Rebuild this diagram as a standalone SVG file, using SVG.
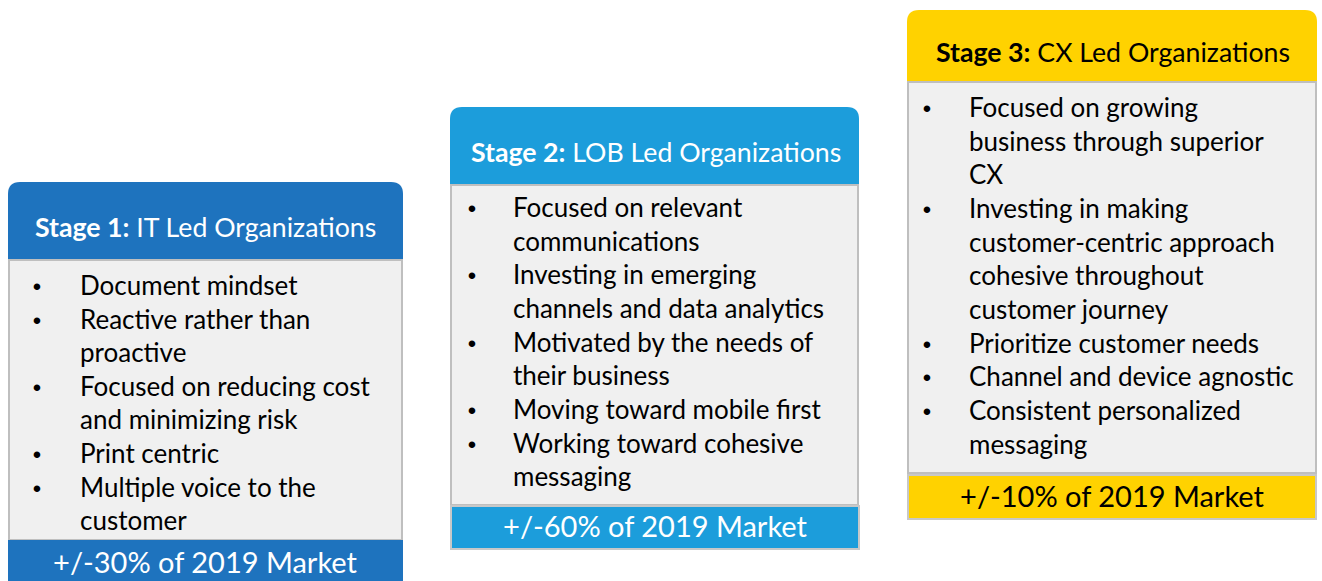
<svg xmlns="http://www.w3.org/2000/svg" width="1322" height="581" viewBox="0 0 1322 581">
<style>
.body{fill:#f0f0f0;stroke:#bfbfbf;stroke-width:2}
.t{font-family:Lato,"Liberation Sans",sans-serif;font-size:26px;fill:#000}
.b{font-family:"Liberation Sans",sans-serif;font-size:24px;fill:#000;text-anchor:middle}
.h{font-family:Lato,"Liberation Sans",sans-serif;font-size:26.7px}
.f{font-family:Lato,"Liberation Sans",sans-serif;font-size:29px;text-anchor:middle}
.w{fill:#fff}
.k{fill:#000}
</style>
<rect width="1322" height="581" fill="#fff"/>
<g id="stage1">
<path d="M8 260 V194 Q8 182 20 182 H391 Q403 182 403 194 V260 Z" fill="#1e73be"/>
<rect class="body" x="9" y="260" width="393" height="280"/>
<rect x="8" y="540" width="395" height="41" fill="#1e73be"/>
<text class="h w" x="35" y="237"><tspan font-weight="bold">Stage 1:</tspan> IT Led Organizations</text>
<text class="b" x="37" y="295">•</text><text class="t" x="80" y="295">Document mindset</text>
<text class="b" x="37" y="329">•</text><text class="t" x="80" y="329">Reactive rather than</text>
<text class="t" x="80" y="362">proactive</text>
<text class="b" x="37" y="396">•</text><text class="t" x="80" y="396">Focused on reducing cost</text>
<text class="t" x="80" y="429">and minimizing risk</text>
<text class="b" x="37" y="463">•</text><text class="t" x="80" y="463">Print centric</text>
<text class="b" x="37" y="497">•</text><text class="t" x="80" y="497">Multiple voice to the</text>
<text class="t" x="80" y="530">customer</text>
<text class="f w" x="205" y="573">+/-30% of 2019 Market</text>
</g>
<g id="stage2">
<path d="M450 185 V119 Q450 107 462 107 H847 Q859 107 859 119 V185 Z" fill="#1c9ddb"/>
<rect class="body" x="451" y="185" width="407" height="320"/>
<rect x="451" y="506" width="408" height="43" fill="#1c9ddb" stroke="#c8c8c8" stroke-width="2"/>
<text class="h w" x="471" y="162"><tspan font-weight="bold">Stage 2:</tspan> LOB Led Organizations</text>
<text class="b" x="472" y="217">•</text><text class="t" x="513" y="217">Focused on relevant</text>
<text class="t" x="513" y="251">communications</text>
<text class="b" x="472" y="284">•</text><text class="t" x="513" y="284">Investing in emerging</text>
<text class="t" x="513" y="318">channels and data analytics</text>
<text class="b" x="472" y="352">•</text><text class="t" x="513" y="352">Motivated by the needs of</text>
<text class="t" x="513" y="385">their business</text>
<text class="b" x="472" y="419">•</text><text class="t" x="513" y="419">Moving toward mobile first</text>
<text class="b" x="472" y="453">•</text><text class="t" x="513" y="453">Working toward cohesive</text>
<text class="t" x="513" y="486">messaging</text>
<text class="f w" x="655" y="537">+/-60% of 2019 Market</text>
</g>
<g id="stage3">
<path d="M907 82 V22 Q907 10 919 10 H1305 Q1317 10 1317 22 V82 Z" fill="#ffd200"/>
<rect class="body" x="908" y="82" width="408" height="391"/>
<rect x="908" y="475" width="408" height="44" fill="#ffd200" stroke="#c8c8c8" stroke-width="2"/>
<text class="h k" x="936" y="62"><tspan font-weight="bold">Stage 3:</tspan> CX Led Organizations</text>
<text class="b" x="927" y="117">•</text><text class="t" x="969" y="117">Focused on growing</text>
<text class="t" x="969" y="151">business through superior</text>
<text class="t" x="969" y="184">CX</text>
<text class="b" x="927" y="218">•</text><text class="t" x="969" y="218">Investing in making</text>
<text class="t" x="969" y="252">customer-centric approach</text>
<text class="t" x="969" y="285">cohesive throughout</text>
<text class="t" x="969" y="319">customer journey</text>
<text class="b" x="927" y="353">•</text><text class="t" x="969" y="353">Prioritize customer needs</text>
<text class="b" x="927" y="386">•</text><text class="t" x="969" y="386">Channel and device agnostic</text>
<text class="b" x="927" y="420">•</text><text class="t" x="969" y="420">Consistent personalized</text>
<text class="t" x="969" y="454">messaging</text>
<text class="f k" x="1112" y="507">+/-10% of 2019 Market</text>
</g>
<g id="connectors"/>
</svg>
